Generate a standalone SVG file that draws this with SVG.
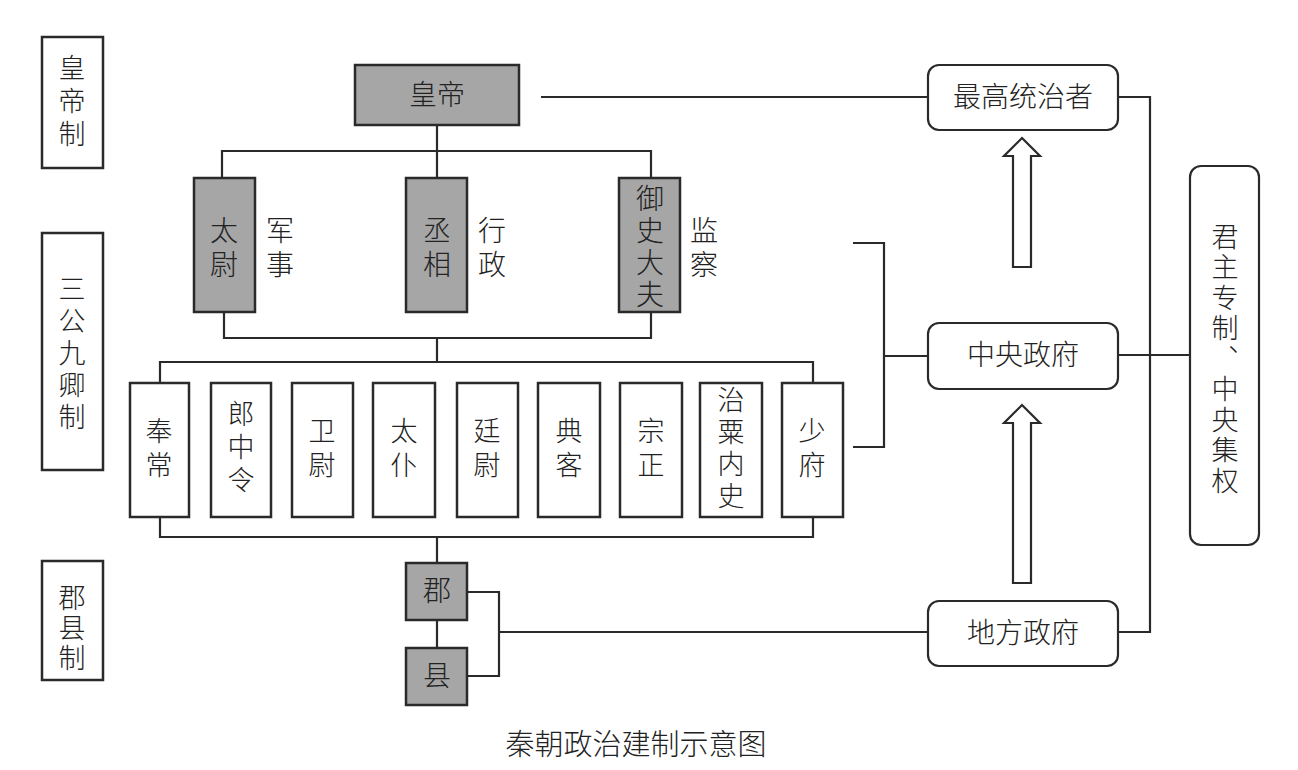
<svg xmlns="http://www.w3.org/2000/svg" width="1298" height="770" viewBox="0 0 1298 770">
<style>
text{font-family:"Noto Sans CJK SC","Noto Sans",sans-serif;fill:#222;text-anchor:middle;font-weight:300}
.v{writing-mode:vertical-rl;glyph-orientation-vertical:0}
.lbl{font-size:27px}
.t{font-size:28px}
.m{font-size:27px}
.box{fill:#fff;stroke:#2a2a2a;stroke-width:2.5}
.g{fill:#a6a6a6;stroke:#2a2a2a;stroke-width:2.5}
.r{fill:#fff;stroke:#2a2a2a;stroke-width:2.2}
.c{fill:none;stroke:#2a2a2a;stroke-width:2.2}
.ar{fill:#fff;stroke:#2a2a2a;stroke-width:2.2;stroke-linejoin:miter}
</style>
<rect width="1298" height="770" fill="#fff"/>
<g id="connectors">
<path class="c" d="M437 125V178M222 178V151H651V178"/>
<path class="c" d="M224 312V338H651V312M437 338V362M160 383V362H813V383"/>
<path class="c" d="M160 517V537H813V517M437 537V563M437 620V648"/>
<path class="c" d="M467 592H499V676H467M499 632H928"/>
<path class="c" d="M541 97H928"/>
<path class="c" d="M853 243H884V447H853M884 356H928"/>
<path class="c" d="M1118 97H1150V632H1118M1118 355H1190"/>
<path class="ar" d="M1013 267V156H1004L1022 138L1040 156H1031V267Z"/>
<path class="ar" d="M1013 583V423H1004L1022 405L1040 423H1031V583Z"/>
</g>
<g id="lbl-huangdizhi"><rect class="box" x="42" y="37" width="61" height="131"/><text class="lbl v" x="72" y="104" letter-spacing="6">皇帝制</text></g>
<g id="lbl-sangong"><rect class="box" x="42" y="233" width="61" height="237"/><text class="lbl v" x="72" y="355" letter-spacing="5">三公九卿制</text></g>
<g id="lbl-junxian"><rect class="box" x="42" y="561" width="61" height="119"/><text class="lbl v" x="72" y="629" letter-spacing="3">郡县制</text></g>
<g id="huangdi"><rect class="g" x="355" y="65" width="164" height="60"/><text class="t" x="437" y="105">皇帝</text></g>
<g id="taiwei"><rect class="g" x="194" y="178" width="61" height="134"/><text class="t v" x="224" y="250" letter-spacing="6">太尉</text><text class="t v" x="280" y="250" letter-spacing="6">军事</text></g>
<g id="chengxiang"><rect class="g" x="406" y="178" width="61" height="134"/><text class="t v" x="437" y="250" letter-spacing="6">丞相</text><text class="t v" x="492" y="250" letter-spacing="6">行政</text></g>
<g id="yushidafu"><rect class="g" x="619" y="178" width="61" height="134"/><text class="t v" x="650" y="248" letter-spacing="4">御史大夫</text><text class="t v" x="704" y="250" letter-spacing="6">监察</text></g>
<g id="fengchang"><rect class="box" x="130" y="383" width="59" height="134"/><text class="m v" x="159" y="451" letter-spacing="7">奉常</text></g>
<g id="langzhongling"><rect class="box" x="211" y="383" width="60" height="134"/><text class="m v" x="241" y="450" letter-spacing="6">郎中令</text></g>
<g id="weiwei"><rect class="box" x="292" y="383" width="61" height="134"/><text class="m v" x="322" y="451" letter-spacing="7">卫尉</text></g>
<g id="taipu"><rect class="box" x="373" y="383" width="62" height="134"/><text class="m v" x="404" y="451" letter-spacing="7">太仆</text></g>
<g id="tingwei"><rect class="box" x="457" y="383" width="61" height="134"/><text class="m v" x="487" y="451" letter-spacing="7">廷尉</text></g>
<g id="dianke"><rect class="box" x="538" y="383" width="62" height="134"/><text class="m v" x="569" y="451" letter-spacing="7">典客</text></g>
<g id="zongzheng"><rect class="box" x="620" y="383" width="62" height="134"/><text class="m v" x="651" y="451" letter-spacing="7">宗正</text></g>
<g id="zhisuneishi"><rect class="box" x="700" y="383" width="62" height="134"/><text class="m v" x="731" y="450" letter-spacing="5">治粟内史</text></g>
<g id="shaofu"><rect class="box" x="782" y="383" width="61" height="134"/><text class="m v" x="812" y="451" letter-spacing="7">少府</text></g>
<g id="jun"><rect class="g" x="406" y="563" width="61" height="57"/><text class="t" x="437" y="601">郡</text></g>
<g id="xian"><rect class="g" x="406" y="648" width="61" height="57"/><text class="t" x="437" y="686">县</text></g>
<g id="zuigao"><rect class="r" x="928" y="65" width="190" height="65" rx="11"/><text class="t" x="1023" y="107">最高统治者</text></g>
<g id="zhongyang"><rect class="r" x="928" y="323" width="190" height="66" rx="11"/><text class="t" x="1023" y="365">中央政府</text></g>
<g id="difang"><rect class="r" x="928" y="601" width="190" height="65" rx="11"/><text class="t" x="1023" y="643">地方政府</text></g>
<g id="junzhu"><rect class="r" x="1190" y="166" width="69" height="379" rx="11"/><text class="m v" x="1225" y="360" letter-spacing="3.5">君主专制、中央集权</text></g>
<text id="title" x="636" y="755" style="font-size:29px">秦朝政治建制示意图</text>
</svg>
